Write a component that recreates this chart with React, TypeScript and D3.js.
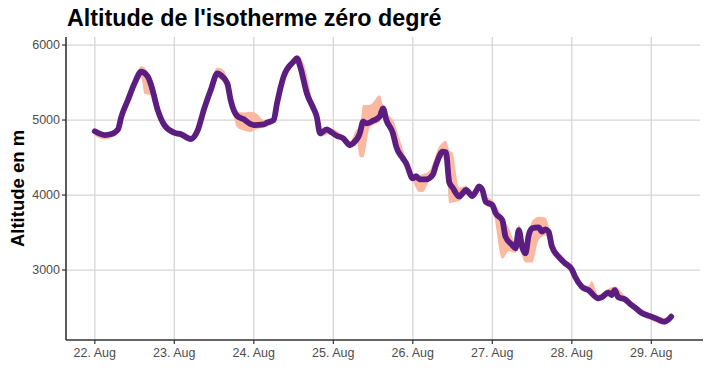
import React from "react";
import * as d3 from "d3";

// Hours since 22 Aug 00:00 and zero-degree isotherm altitude (m)
const lineHours = [0, 3, 5, 7, 8, 10, 12, 14, 16, 17, 19, 21, 24, 26, 29, 31, 33, 35, 37, 38, 40, 41, 43, 45, 47, 48, 51, 52, 54, 55, 57, 60, 61, 62, 64, 66, 67, 68, 70, 71, 73, 75, 77, 78, 80, 81, 82, 84, 86, 87, 88, 90, 91, 93, 94, 96, 97, 98, 100, 102, 103, 105, 106, 107, 108, 110, 111, 112, 114, 115, 116, 117, 118, 120, 121, 123, 124, 126, 127, 128, 129, 130, 131, 132, 134, 135, 136, 137, 138, 140, 142, 144, 145, 147, 149, 152, 153, 155, 156, 157, 158, 160, 162, 163, 165, 168, 170, 172, 173, 174];
const lineValues = [4850, 4800, 4813, 4876, 5044, 5267, 5489, 5644, 5578, 5467, 5133, 4933, 4831, 4809, 4747, 4857, 5150, 5400, 5622, 5600, 5489, 5267, 5053, 5009, 4947, 4933, 4942, 4964, 5000, 5222, 5578, 5778, 5822, 5711, 5356, 5156, 5044, 4822, 4876, 4850, 4790, 4756, 4667, 4689, 4822, 4978, 4956, 4991, 5044, 5156, 5000, 4822, 4644, 4489, 4422, 4222, 4253, 4209, 4209, 4267, 4400, 4578, 4570, 4170, 4100, 3978, 4022, 4067, 3987, 4044, 4111, 4067, 3911, 3867, 3756, 3667, 3444, 3333, 3289, 3533, 3311, 3222, 3467, 3556, 3569, 3511, 3542, 3511, 3311, 3178, 3089, 3009, 2911, 2778, 2733, 2622, 2636, 2698, 2667, 2733, 2636, 2609, 2533, 2502, 2431, 2378, 2342, 2311, 2333, 2378];

// Min / max band
const bandHours = [0, 3, 6, 9, 12, 14, 15, 17, 19, 21, 24, 27, 29, 31, 34, 37, 39, 41, 43, 45, 47, 49, 51, 54, 57, 60, 61, 63, 66, 68, 71, 75, 77, 79, 80, 81, 83, 86, 87, 88, 90, 92, 94, 96, 98, 99, 101, 104, 106, 107, 108, 110, 112, 114, 116, 118, 120, 123, 125, 127, 128, 130, 132, 134, 136, 138, 140, 142, 144, 147, 149, 150, 152, 155, 157, 160, 163, 165, 168, 170, 172, 174];
const bandLow = [4790, 4740, 4790, 5080, 5440, 5560, 5350, 5330, 5100, 4890, 4790, 4760, 4710, 4820, 5220, 5560, 5480, 5230, 4900, 4860, 4840, 4880, 4900, 4960, 5520, 5740, 5780, 5500, 5100, 4780, 4810, 4700, 4620, 4740, 4510, 4500, 4900, 4980, 5080, 4950, 4760, 4560, 4370, 4180, 4040, 4040, 4200, 4480, 4500, 3890, 3900, 3920, 4000, 3940, 4060, 3860, 3810, 3150, 3250, 3230, 3280, 3100, 3100, 3400, 3460, 3250, 3130, 3040, 2960, 2730, 2690, 2660, 2580, 2650, 2680, 2560, 2460, 2390, 2330, 2290, 2270, 2330];
const bandHigh = [4880, 4830, 4880, 5200, 5540, 5720, 5700, 5520, 5180, 4970, 4860, 4840, 4780, 4900, 5320, 5700, 5660, 5330, 5110, 5100, 5110, 5080, 5000, 5040, 5620, 5830, 5870, 5760, 5200, 4870, 4890, 4790, 4710, 4870, 4900, 5200, 5200, 5330, 5200, 5100, 5000, 4750, 4480, 4290, 4260, 4280, 4320, 4650, 4720, 4600, 4560, 4100, 4120, 4050, 4160, 4000, 3930, 3720, 3560, 3370, 3600, 3300, 3650, 3711, 3700, 3420, 3230, 3140, 3060, 2830, 2790, 2850, 2670, 2750, 2780, 2660, 2550, 2480, 2420, 2390, 2360, 2420];

const yTicks = [3000, 4000, 5000, 6000];
const xTickDays = [0, 1, 2, 3, 4, 5, 6, 7];
const xTickLabels = ["22. Aug", "23. Aug", "24. Aug", "25. Aug", "26. Aug", "27. Aug", "28. Aug", "29. Aug"];

const title = "Altitude de l'isotherme zéro degré";
const yTitle = "Altitude en m";

export default function App() {
  const W = 710, H = 391;
  const left = 66, right = 700, top = 37, bottom = 340;
  const x = d3.scaleLinear().domain([-8.7, 182.7]).range([left, right]);
  const y = d3.scaleLinear().domain([2067, 6107]).range([bottom, top]);

  const band = bandHours.map((h, i) => ({ h, lo: bandLow[i], hi: bandHigh[i] }));
  const pts = lineHours.map((h, i) => ({ h, v: lineValues[i] }));

  const area = d3.area<any>().x(d => x(d.h)).y0(d => y(d.lo)).y1(d => y(d.hi)).curve(d3.curveMonotoneX);
  const line = d3.line<any>().x(d => x(d.h)).y(d => y(d.v)).curve(d3.curveMonotoneX);

  const font = "'Liberation Sans', Arial, sans-serif";

  return (
    <svg width={W} height={H} style={{ position: "absolute", left: 0, top: 0, background: "#fff" }} fontFamily={font}>
      <rect width={W} height={H} fill="#fff" />
      {yTicks.map(t => (
        <line key={"gy" + t} x1={left} x2={right} y1={y(t)} y2={y(t)} stroke="#d6d6d6" strokeWidth={1.3} />
      ))}
      {xTickDays.map(d => (
        <line key={"gx" + d} x1={x(d * 24)} x2={x(d * 24)} y1={top} y2={bottom} stroke="#d6d6d6" strokeWidth={1.3} />
      ))}
      <path d={area(band) || ""} fill="#fbb9a2" />
      <path d={line(pts) || ""} fill="none" stroke="#5b1d80" strokeWidth={5.8} strokeLinejoin="round" strokeLinecap="round" />
      <line x1={left} x2={left} y1={top} y2={bottom} stroke="#333" strokeWidth={1.6} />
      <line x1={left} x2={right + 3} y1={bottom} y2={bottom} stroke="#333" strokeWidth={1.6} />
      {yTicks.map(t => (
        <g key={"ty" + t}>
          <line x1={left - 4} x2={left} y1={y(t)} y2={y(t)} stroke="#333" strokeWidth={1.2} />
          <text x={left - 6} y={y(t)} dy="0.35em" textAnchor="end" fontSize={12.5} fill="#4d4d4d">{t}</text>
        </g>
      ))}
      {xTickDays.map((d, i) => (
        <g key={"tx" + d}>
          <line x1={x(d * 24)} x2={x(d * 24)} y1={bottom} y2={bottom + 4} stroke="#333" strokeWidth={1.2} />
          <text x={x(d * 24)} y={bottom + 17} textAnchor="middle" fontSize={12.5} fill="#4d4d4d">{xTickLabels[i]}</text>
        </g>
      ))}
      <text x={67} y={26} fontSize={23.3} fontWeight="bold" fill="#000">{title}</text>
      <text transform={`translate(24,${(top + bottom) / 2}) rotate(-90)`} textAnchor="middle" fontSize={18.5} fontWeight="bold" fill="#000">{yTitle}</text>
    </svg>
  );
}
